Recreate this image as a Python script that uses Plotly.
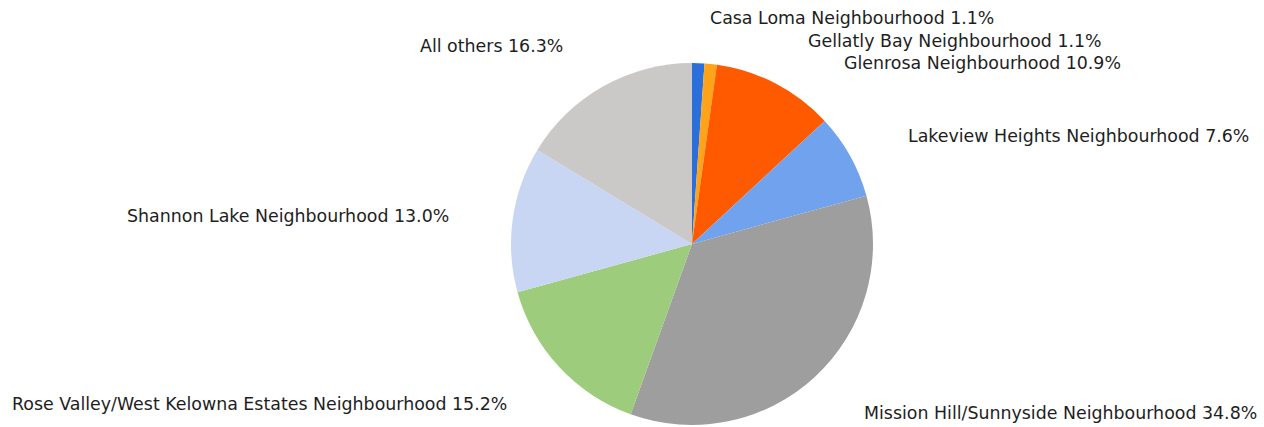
import plotly.graph_objects as go

labels = ["Casa Loma Neighbourhood", "Gellatly Bay Neighbourhood", "Glenrosa Neighbourhood",
          "Lakeview Heights Neighbourhood", "Mission Hill/Sunnyside Neighbourhood",
          "Rose Valley/West Kelowna Estates Neighbourhood", "Shannon Lake Neighbourhood", "All others"]
values = [1.1, 1.1, 10.9, 7.6, 34.8, 15.2, 13.0, 16.3]
colors = ["#2b6fdb", "#ffa31a", "#ff5a00", "#70a2ee", "#9e9e9e", "#9ccc7c", "#c8d6f4", "#cac9c8"]

# label placement (left edge px, vertical centre px) in the 1264x427 canvas
label_pos = [(708, 18), (806, 41), (842, 63), (906, 136), (862, 413), (10, 404), (125, 216), (418, 46)]

W, H = 1264, 427
fig = go.Figure(go.Pie(
    labels=labels, values=values, sort=False, direction="clockwise",
    marker=dict(colors=colors, line=dict(width=0)),
    textinfo="none", hoverinfo="label+percent", showlegend=False,
    domain=dict(x=[(692 - 181) / W, (692 + 181) / W], y=[(H - 244 - 181) / H, (H - 244 + 181) / H]),
))

for lab, val, (px, py) in zip(labels, values, label_pos):
    fig.add_annotation(x=px / W, y=1 - py / H, xref="paper", yref="paper",
                       xanchor="left", yanchor="middle", showarrow=False,
                       text=f"{lab} {val:.1f}%",
                       font=dict(family="DejaVu Sans", size=17.4, color="#1e1e1e"))

fig.update_layout(width=W, height=H, margin=dict(l=0, r=0, t=0, b=0),
                  paper_bgcolor="white", plot_bgcolor="white")
fig.write_html("out.html", config={"displayModeBar": False},
               post_script="document.body.style.margin='0';document.body.style.overflow='hidden';")
